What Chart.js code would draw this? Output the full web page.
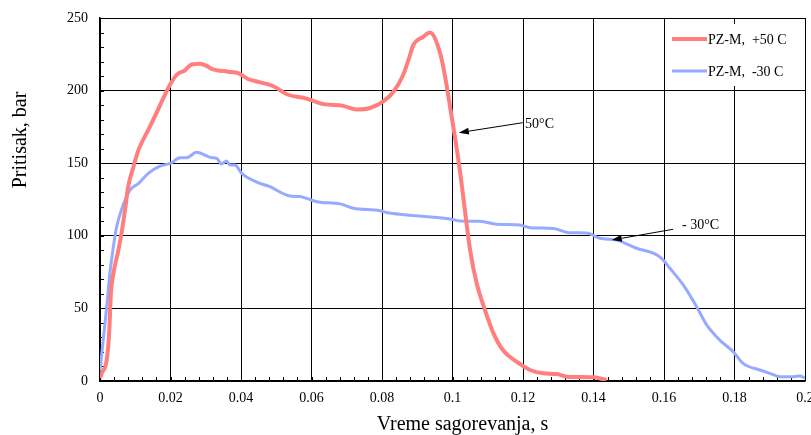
<!DOCTYPE html>
<html>
<head>
<meta charset="utf-8">
<script src="https://cdn.jsdelivr.net/npm/chart.js@4"></script>
<style>
html,body{margin:0;padding:0;background:#fff;}
canvas{display:block;}
</style>
</head>
<body>
<canvas id="c" width="811" height="435"></canvas>
<script>
// ---- data ----
const seriesLabels = ['PZ-M,  +50 C', 'PZ-M,  -30 C'];

const hotTime = [0, 0.0005, 0.0019, 0.0026, 0.0031, 0.0038, 0.0052, 0.0061, 0.0071, 0.008, 0.0095,
  0.0109, 0.0137, 0.0161, 0.018, 0.0201, 0.0218, 0.0241, 0.026, 0.0284, 0.0303, 0.0317, 0.0364,
  0.0392, 0.042, 0.0449, 0.0492, 0.053, 0.0586, 0.0634, 0.069, 0.0728, 0.0766, 0.0804, 0.0832,
  0.086, 0.0875, 0.0889, 0.0917, 0.0936, 0.0965, 0.0979, 0.0993, 0.1007, 0.1021, 0.1035, 0.105,
  0.1069, 0.1092, 0.1116, 0.1144, 0.1182, 0.122, 0.1258, 0.1296, 0.1324, 0.14, 0.1437];
const hotPressure = [2, 5.3, 14.5, 33, 60.6, 74, 90, 101.7, 117.8, 133.8, 147.6,
  159, 173, 185, 195, 205, 211, 214, 218, 218.5, 217, 215, 213,
  212, 208, 206, 203, 197.5, 194.5, 190.7, 189.5, 187, 188, 192.5, 199,
  210.7, 221, 231.4, 237, 240, 225.7, 209.6, 189, 168, 145, 118, 90,
  67, 49, 33, 21, 13.3, 7.6, 5.3, 4.8, 3, 2.5, 0.7];

const coldTime = [0, 0.0009, 0.0019, 0.0028, 0.0038, 0.0047, 0.0061, 0.0085, 0.0109, 0.0137, 0.017,
  0.0201, 0.0227, 0.0246, 0.0274, 0.0317, 0.0331, 0.0345, 0.0359, 0.0369, 0.0383, 0.0402, 0.0445,
  0.0482, 0.0539, 0.0567, 0.0586, 0.0615, 0.0681, 0.0719, 0.0794, 0.0813, 0.0908, 0.0993, 0.1021,
  0.1078, 0.1125, 0.1191, 0.122, 0.1286, 0.1333, 0.138, 0.1418, 0.1466, 0.1522, 0.157, 0.1593,
  0.1617, 0.1655, 0.1693, 0.1721, 0.1759, 0.1797, 0.1825, 0.1872, 0.19, 0.1929, 0.1967, 0.1986, 0.2];
const coldPressure = [7, 28, 51, 74, 92.5, 106, 118, 131.5, 136, 143, 148,
  150, 153.8, 153.8, 157.5, 153.8, 153.3, 149.5, 151.5, 148.8, 148.8, 143, 137,
  133.8, 127.4, 127, 125.8, 123.5, 122, 119, 117.3, 116, 113.6, 111.6, 110.2,
  110, 107.9, 107.4, 105.6, 105.1, 102.1, 102, 98.3, 97, 91.4, 88, 84.5,
  77.6, 66, 51, 38.6, 28, 20, 12, 7.6, 5.3, 3, 3, 3.4, 2];

const xTickLabels = ['0', '0.02', '0.04', '0.06', '0.08', '0.1', '0.12', '0.14', '0.16', '0.18', '0.2'];
const yTickLabels = ['0', '50', '100', '150', '200', '250'];

// annotation labels with their anchor values (data space)
const noteTexts   = ['50\u00B0C', '- 30\u00B0C'];
const noteTextT   = [0.1206, 0.1651];
const noteTextP   = [177, 107.4];
const noteFromT   = [0.1199, 0.1626];
const noteFromP   = [177.9, 104.5];
const noteTipT    = [0.1018, 0.1452];
const noteTipP    = [171, 97.1];

const xTitle = 'Vreme sagorevanja, s';
const yTitle = 'Pritisak, bar';

// ---- build ----
const SERIF = "'Liberation Serif', 'Times New Roman', serif";
const RED = '#ff7f7f';
const BLUE = '#96aaff';

function pts(ts, vs) { return ts.map((t, i) => ({x: t, y: vs[i]})); }

const decor = {
  id: 'decor',
  beforeDatasetsDraw(chart) {
    const {ctx, chartArea: a, scales: {x, y}} = chart;
    ctx.save();
    ctx.strokeStyle = '#000';
    ctx.lineWidth = 1;
    ctx.beginPath();
    for (let i = 0; i <= 50; i++) {
      const px = Math.round(x.getPixelForValue(i * 0.004)) + 0.5;
      ctx.moveTo(px, a.bottom);
      ctx.lineTo(px, a.bottom - 4);
    }
    for (let i = 0; i <= 25; i++) {
      const py = Math.round(y.getPixelForValue(i * 10)) + 0.5;
      ctx.moveTo(a.left, py);
      ctx.lineTo(a.left + 4, py);
    }
    ctx.stroke();
    ctx.restore();
  },
  afterDatasetsDraw(chart) {
    const {ctx, chartArea: a, scales: {x, y}} = chart;
    ctx.save();
    // legend box
    ctx.fillStyle = '#fff';
    ctx.fillRect(a.right - 137, a.top + 6, 135, 62);
    chart.data.datasets.forEach((ds, i) => {
      const ly = a.top + 21 + i * 32;
      ctx.strokeStyle = ds.borderColor;
      ctx.lineWidth = ds.borderWidth;
      ctx.beginPath();
      ctx.moveTo(a.right - 133, ly);
      ctx.lineTo(a.right - 98, ly);
      ctx.stroke();
      ctx.fillStyle = '#000';
      ctx.font = '14px ' + SERIF;
      ctx.textAlign = 'left';
      ctx.textBaseline = 'middle';
      ctx.fillText(ds.label, a.right - 97, ly + 1);
    });
    // annotations
    ctx.fillStyle = '#000';
    ctx.strokeStyle = '#000';
    ctx.lineWidth = 1;
    noteTexts.forEach((txt, i) => {
      const fx = x.getPixelForValue(noteFromT[i]), fy = y.getPixelForValue(noteFromP[i]);
      const tx = x.getPixelForValue(noteTipT[i]), ty = y.getPixelForValue(noteTipP[i]);
      const ang = Math.atan2(ty - fy, tx - fx);
      const L = 10, W = 3.5;
      const bx = tx - L * Math.cos(ang), by = ty - L * Math.sin(ang);
      ctx.beginPath();
      ctx.moveTo(fx, fy);
      ctx.lineTo(bx, by);
      ctx.stroke();
      ctx.beginPath();
      ctx.moveTo(tx, ty);
      ctx.lineTo(bx + W * Math.sin(ang), by - W * Math.cos(ang));
      ctx.lineTo(bx - W * Math.sin(ang), by + W * Math.cos(ang));
      ctx.closePath();
      ctx.fill();
      ctx.font = '14px ' + SERIF;
      ctx.textAlign = 'left';
      ctx.textBaseline = 'middle';
      ctx.fillText(txt, x.getPixelForValue(noteTextT[i]), y.getPixelForValue(noteTextP[i]));
    });
    ctx.restore();
  },
  afterDraw(chart) {
    const {ctx, chartArea: a} = chart;
    ctx.save();
    ctx.fillStyle = '#000';
    ctx.font = '20px ' + SERIF;
    ctx.textAlign = 'center';
    ctx.textBaseline = 'alphabetic';
    ctx.fillText(xTitle, (a.left + a.right) / 2 + 10, a.bottom + 49);
    ctx.translate(a.left - 74, a.top + 122);
    ctx.rotate(-Math.PI / 2);
    ctx.fillText(yTitle, 0, 0);
    ctx.restore();
  }
};

new Chart(document.getElementById('c'), {
  type: 'line',
  data: {
    datasets: [
      {label: seriesLabels[0], data: pts(hotTime, hotPressure), borderColor: RED, borderWidth: 4,
       pointRadius: 0, cubicInterpolationMode: 'monotone', fill: false},
      {label: seriesLabels[1], data: pts(coldTime, coldPressure), borderColor: BLUE, borderWidth: 3,
       pointRadius: 0, cubicInterpolationMode: 'monotone', fill: false}
    ]
  },
  options: {
    responsive: false,
    animation: false,
    devicePixelRatio: 1,
    layout: {padding: {left: 0, right: 6, top: 18, bottom: 0}},
    plugins: {legend: {display: false}, tooltip: {enabled: false}},
    scales: {
      x: {
        type: 'linear', min: 0, max: 0.2,
        ticks: {stepSize: 0.02, padding: 9, color: '#000', maxRotation: 0, autoSkip: false,
          font: {family: SERIF, size: 14},
          callback: (v, i) => xTickLabels[i]},
        grid: {color: '#000', lineWidth: 1, drawTicks: false},
        border: {color: '#000', width: 1.5},
        afterFit(s) { s.height = 54; s.paddingLeft = 0; s.paddingRight = 0; }
      },
      y: {
        min: 0, max: 250,
        ticks: {stepSize: 50, padding: 12, color: '#000', font: {family: SERIF, size: 14},
          callback: (v, i) => yTickLabels[i]},
        grid: {color: '#000', lineWidth: 1, drawTicks: false},
        border: {color: '#000', width: 1.5},
        afterFit(s) { s.width = 100; s.paddingTop = 0; s.paddingBottom = 0; }
      }
    }
  },
  plugins: [decor]
});
</script>
</body>
</html>
